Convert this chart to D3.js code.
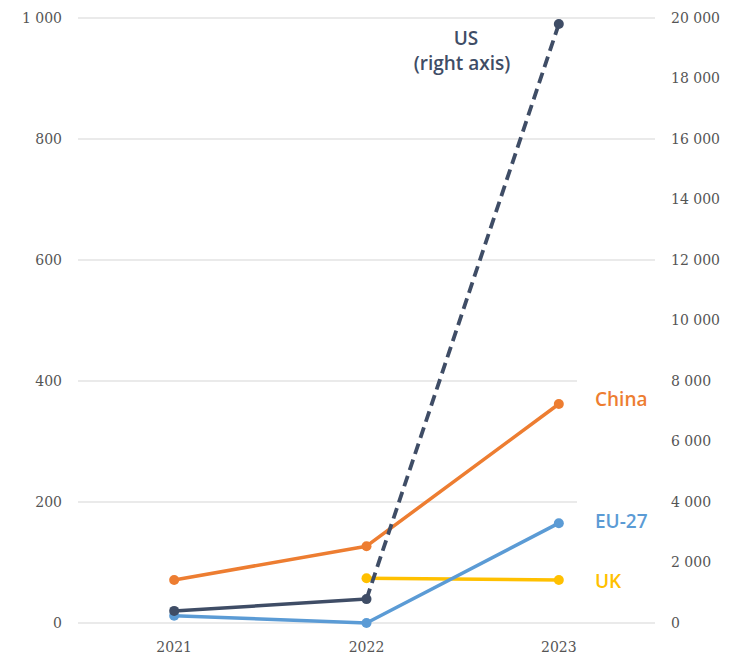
<!DOCTYPE html>
<html>
<head>
<meta charset="utf-8">
<script src="https://cdn.jsdelivr.net/npm/d3@7"></script>
<style>
  html, body { margin: 0; padding: 0; background: #fff; }
  svg { display: block; }
  .tick text { font-family: "DejaVu Serif", "Liberation Serif", serif; }
</style>
</head>
<body>
<svg id="svg"></svg>
<script>
const width = 735;
const height = 657;

// data
const years = ["2021", "2022", "2023"];
const china = [71, 127, 362];          // left axis
const eu27 = [12, 0, 165];             // left axis
const uk = [null, 74, 71];             // left axis
const us = [400, 790, 19800];          // right axis
const leftTicks = [0, 200, 400, 600, 800, 1000];
const rightTicks = [0, 2000, 4000, 6000, 8000, 10000, 12000, 14000, 16000, 18000, 20000];

const plotLeft = 78, plotRight = 655, plotTop = 18, plotBottom = 623;

const svg = d3.select("#svg").attr("width", width).attr("height", height);

const x = d3.scaleBand().domain(years).range([plotLeft, plotRight]);
const cx = d => x(d) + x.bandwidth() / 2;
const yL = d3.scaleLinear().domain([0, 1000]).range([plotBottom, plotTop]);
const yR = d3.scaleLinear().domain([0, 20000]).range([plotBottom, plotTop]);

const locale = d3.formatLocale({decimal: ".", thousands: " ", grouping: [3], currency: ["", ""]});
const fmt = locale.format(",d");

// gridlines
svg.append("g")
  .selectAll("line")
  .data(leftTicks)
  .join("line")
  .attr("x1", plotLeft)
  .attr("x2", plotRight)
  .attr("y1", d => yL(d))
  .attr("y2", d => yL(d))
  .attr("stroke", "#e3e3e3")
  .attr("stroke-width", 1.5);

// axes
const leftAxis = svg.append("g")
  .attr("transform", "translate(62,0)")
  .call(d3.axisLeft(yL).tickValues(leftTicks).tickFormat(fmt).tickSize(0).tickPadding(0));
const rightAxis = svg.append("g")
  .attr("transform", "translate(671,0)")
  .call(d3.axisRight(yR).tickValues(rightTicks).tickFormat(fmt).tickSize(0).tickPadding(0));
const bottomAxis = svg.append("g")
  .attr("transform", `translate(0,${plotBottom})`)
  .call(d3.axisBottom(x).tickSize(0).tickPadding(19));

[leftAxis, rightAxis, bottomAxis].forEach(a => {
  a.attr("font-family", null);
  a.select(".domain").remove();
  a.selectAll("text")
    .attr("font-size", 14)
    .attr("fill", "#555");
});

// white boxes behind the right-hand series labels
svg.append("g")
  .selectAll("rect")
  .data([[372, 414], [495, 540], [560, 598]])
  .join("rect")
  .attr("x", 577)
  .attr("y", d => d[0])
  .attr("width", 88)
  .attr("height", d => d[1] - d[0])
  .attr("fill", "#fff");

function drawSeries(values, scale, color) {
  const pts = years.map((yr, i) => ({yr, v: values[i]})).filter(d => d.v != null);
  const line = d3.line().x(d => cx(d.yr)).y(d => scale(d.v));
  const g = svg.append("g");
  g.append("path")
    .datum(pts)
    .attr("d", line)
    .attr("fill", "none")
    .attr("stroke", color)
    .attr("stroke-width", 3.5)
    .attr("stroke-linejoin", "round");
  g.selectAll("circle")
    .data(pts)
    .join("circle")
    .attr("cx", d => cx(d.yr))
    .attr("cy", d => scale(d.v))
    .attr("r", 5)
    .attr("fill", color);
  return g;
}

const usColor = "#3f4d66";
drawSeries(uk, yL, "#ffc000");
drawSeries(eu27, yL, "#5b9bd5");
drawSeries(china, yL, "#ed7d31");

// US: solid 2021-2022, dashed 2022-2023
const usPts = years.map((yr, i) => ({yr, v: us[i]}));
const usLine = d3.line().x(d => cx(d.yr)).y(d => yR(d.v));
svg.append("path")
  .datum(usPts.slice(0, 2))
  .attr("d", usLine)
  .attr("fill", "none")
  .attr("stroke", usColor)
  .attr("stroke-width", 3.5);
svg.append("path")
  .datum(usPts.slice(1))
  .attr("d", usLine)
  .attr("fill", "none")
  .attr("stroke", usColor)
  .attr("stroke-width", 3.8)
  .attr("stroke-dasharray", "11,6");
svg.append("g")
  .selectAll("circle")
  .data(usPts)
  .join("circle")
  .attr("cx", d => cx(d.yr))
  .attr("cy", d => yR(d.v))
  .attr("r", 5)
  .attr("fill", usColor);

// series labels
const labelFont = "'Open Sans', sans-serif";
const labels = [
  {text: "China", x: 595, y: 406, color: "#ed7d31", anchor: "start"},
  {text: "EU-27", x: 595, y: 528, color: "#5b9bd5", anchor: "start"},
  {text: "UK", x: 595, y: 588, color: "#ffc000", anchor: "start"},
  {text: "US", x: 466, y: 45, color: usColor, anchor: "middle"},
  {text: "(right axis)", x: 462, y: 70, color: usColor, anchor: "middle"}
];
svg.append("g")
  .selectAll("text")
  .data(labels)
  .join("text")
  .attr("x", d => d.x)
  .attr("y", d => d.y)
  .attr("text-anchor", d => d.anchor)
  .attr("font-family", labelFont)
  .attr("font-weight", 600)
  .attr("font-size", 19)
  .attr("fill", d => d.color)
  .text(d => d.text);
</script>
</body>
</html>
